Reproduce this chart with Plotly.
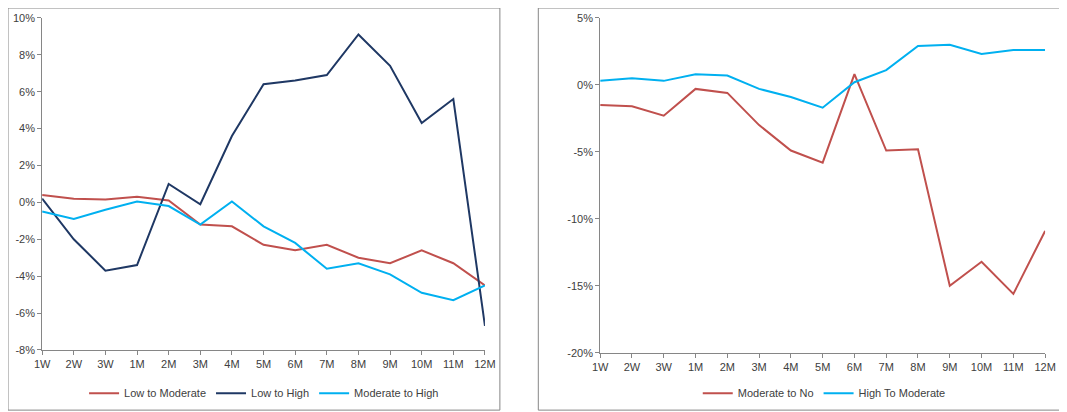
import plotly.graph_objects as go

periods = ["1W", "2W", "3W", "1M", "2M", "3M", "4M", "5M", "6M", "7M", "8M", "9M", "10M", "11M", "12M"]

low_to_moderate = [0.4, 0.2, 0.15, 0.3, 0.1, -1.2, -1.3, -2.3, -2.6, -2.3, -3.0, -3.3, -2.6, -3.3, -4.5]
low_to_high = [0.2, -2.0, -3.7, -3.4, 1.0, -0.1, 3.6, 6.4, 6.6, 6.9, 9.1, 7.4, 4.3, 5.6, -6.7]
moderate_to_high = [-0.5, -0.9, -0.4, 0.05, -0.2, -1.2, 0.05, -1.3, -2.2, -3.6, -3.3, -3.9, -4.9, -5.3, -4.5]

moderate_to_no = [-1.5, -1.6, -2.3, -0.3, -0.6, -3.0, -4.9, -5.8, 0.8, -4.9, -4.8, -15.0, -13.2, -15.6, -10.9]
high_to_moderate = [0.3, 0.5, 0.3, 0.8, 0.7, -0.3, -0.9, -1.7, 0.2, 1.1, 2.9, 3.0, 2.3, 2.6, 2.6]

left_ticks = [-8, -6, -4, -2, 0, 2, 4, 6, 8, 10]
right_ticks = [-20, -15, -10, -5, 0, 5]

RED = "#C0504D"
NAVY = "#1F3864"
CYAN = "#00B0F0"

def pct(v):
    return [x / 100 for x in v]

def labels(ticks):
    return ["%d%%" % t for t in ticks]

fig = go.Figure()
fig.add_trace(go.Scatter(x=periods, y=pct(low_to_moderate), name="Low to Moderate", mode="lines",
                         line=dict(color=RED, width=2), xaxis="x", yaxis="y", legend="legend"))
fig.add_trace(go.Scatter(x=periods, y=pct(low_to_high), name="Low to High", mode="lines",
                         line=dict(color=NAVY, width=2), xaxis="x", yaxis="y", legend="legend"))
fig.add_trace(go.Scatter(x=periods, y=pct(moderate_to_high), name="Moderate to High", mode="lines",
                         line=dict(color=CYAN, width=2), xaxis="x", yaxis="y", legend="legend"))
fig.add_trace(go.Scatter(x=periods, y=pct(moderate_to_no), name="Moderate to No", mode="lines",
                         line=dict(color=RED, width=2), xaxis="x2", yaxis="y2", legend="legend2"))
fig.add_trace(go.Scatter(x=periods, y=pct(high_to_moderate), name="High To Moderate", mode="lines",
                         line=dict(color=CYAN, width=2), xaxis="x2", yaxis="y2", legend="legend2"))

axis_common = dict(showgrid=False, zeroline=False, showline=True, linecolor="#868686",
                   ticks="outside", ticklen=4, tickcolor="#868686", automargin=False)

fig.update_layout(
    width=1067, height=412,
    margin=dict(l=0, r=0, t=0, b=0),
    paper_bgcolor="white", plot_bgcolor="white",
    font=dict(family="Liberation Sans", size=11, color="#404040"),
    xaxis=dict(domain=[0.032, 0.447], anchor="y", range=[0, 14], **axis_common),
    yaxis=dict(domain=[0.17, 0.976], anchor="x", range=[-0.08, 0.10],
               tickvals=pct(left_ticks), ticktext=labels(left_ticks), **axis_common),
    xaxis2=dict(domain=[0.555, 0.972], anchor="y2", range=[0, 14], **axis_common),
    yaxis2=dict(domain=[0.163, 0.976], anchor="x2", range=[-0.20, 0.05],
                tickvals=pct(right_ticks), ticktext=labels(right_ticks), **axis_common),
    legend=dict(orientation="h", x=0.24, xanchor="center", y=0.03, yanchor="bottom",
                font=dict(size=11), bgcolor="rgba(0,0,0,0)"),
    legend2=dict(orientation="h", x=0.765, xanchor="center", y=0.03, yanchor="bottom",
                 font=dict(size=11), bgcolor="rgba(0,0,0,0)"),
    shapes=[
        dict(type="rect", xref="paper", yref="paper", x0=0.0, x1=0.461, y0=0.024, y1=1.0,
             line=dict(color="#868686", width=1)),
        dict(type="rect", xref="paper", yref="paper", x0=0.497, x1=1.0, y0=0.024, y1=1.0,
             line=dict(color="#868686", width=1)),
    ],
)

fig.write_html("out.html")
